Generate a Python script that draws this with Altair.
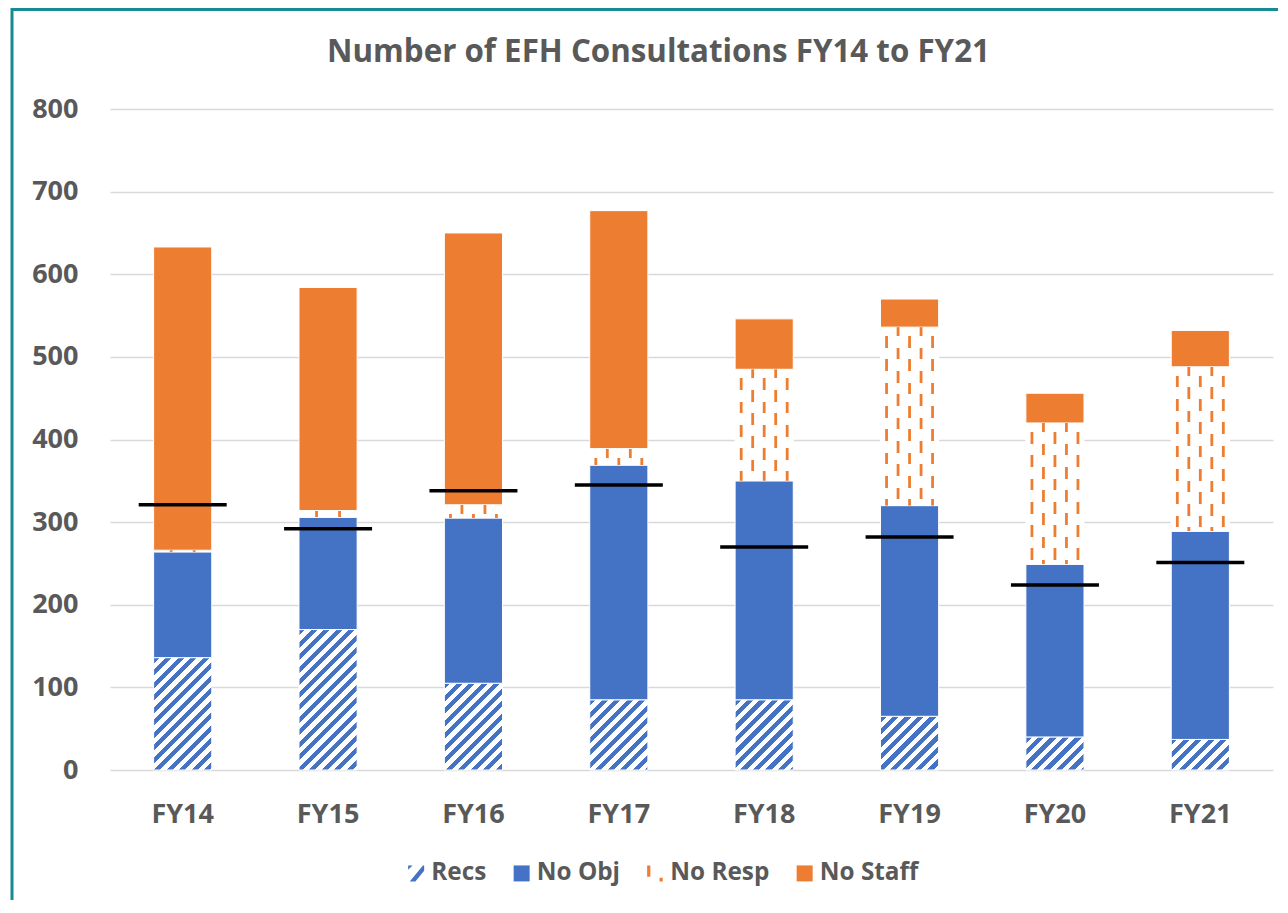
import altair as alt

# ---------------- data ----------------
years = ["FY14", "FY15", "FY16", "FY17", "FY18", "FY19", "FY20", "FY21"]
categories = ["Recs", "No Obj", "No Resp", "No Staff"]
recs = [136, 170, 105, 85, 85, 65, 40, 37]
no_obj = [128, 136, 200, 284, 265, 255, 209, 252]
no_resp = [2, 8, 16, 20, 135, 216, 171, 199]
no_staff = [367, 270, 329, 288, 61, 34, 36, 44]
black_line = [321, 292, 338, 345, 270, 282, 224, 251]
y_ticks = [0, 100, 200, 300, 400, 500, 600, 700, 800]

# ---------------- style ----------------
FONT = "Open Sans"
BLUE = "#4472C4"
ORANGE = "#ED7D31"
GRAY = "#595959"
GRID = "#D9D9D9"
TEAL = "#178A94"
CLEAR = "rgba(237,125,49,0)"

W, H, YMAX = 1163, 661, 800
PX = H / YMAX
STEP = W / 8
BARW = STEP * 0.4


def diag_grad(h, period=12.5, frac=0.5):
    """Diagonal hatch (///) as a hard-stop linear gradient in bbox units."""
    w = BARW
    h = max(h, 1.0)
    k = (w + h) / (w * w + h * h)
    n = (w + h) / period
    stops = []
    i = 0
    while i < n:
        a = min(i / n, 1)
        b = min((i + frac) / n, 1)
        c = min((i + 1) / n, 1)
        stops += [
            {"offset": a, "color": BLUE},
            {"offset": b, "color": BLUE},
            {"offset": b, "color": "#ffffff"},
            {"offset": c, "color": "#ffffff"},
        ]
        i += 1
    return {"gradient": "linear", "x1": 0, "y1": 0, "x2": k * w, "y2": k * h,
            "stops": stops}


def dash_grad(h, start, period=23.3, dash=11.7):
    """Vertical dashes as a hard-stop vertical gradient."""
    h = max(h, 0.5)
    stops = [{"offset": 0, "color": CLEAR}]
    s = start
    while s < h:
        a, b = max(s, 0), min(s + dash, h)
        if b > a:
            stops += [
                {"offset": a / h, "color": CLEAR},
                {"offset": a / h, "color": ORANGE},
                {"offset": b / h, "color": ORANGE},
                {"offset": b / h, "color": CLEAR},
            ]
        s += period
    stops.append({"offset": 1, "color": CLEAR})
    return {"gradient": "linear", "x1": 0, "y1": 0, "x2": 0, "y2": 1,
            "stops": stops}


rows = []
for i, yr in enumerate(years):
    lo = 0
    for cat, vals in zip(categories, [recs, no_obj, no_resp, no_staff]):
        v = vals[i]
        hi = lo + v
        hpx = v * PX
        if cat == "Recs":
            fill = diag_grad(hpx)
        elif cat == "No Obj":
            fill = BLUE
        elif cat == "No Resp":
            fill = "#ffffff"
        else:
            fill = ORANGE
        row = {"year": yr, "cat": cat, "lo": lo, "hi": hi, "fill": fill}
        if cat == "No Resp":
            row["dA"] = dash_grad(hpx, -2.7)
            row["dB"] = dash_grad(hpx, 9.0)
        rows.append(row)
        lo = hi

line_rows = [{"year": y, "v": v} for y, v in zip(years, black_line)]
legend_rows = [{"cat": c} for c in categories]

# ---------------- encodings ----------------
x_enc = alt.X(
    "year:N", sort=years,
    scale=alt.Scale(paddingInner=0.6, paddingOuter=0.3),
    axis=alt.Axis(title=None, labelAngle=0, labelFont=FONT, labelFontSize=27,
                  labelFontWeight="bold", labelColor=GRAY, labelPadding=31,
                  ticks=False, domain=False, grid=False),
)
y_scale = alt.Scale(domain=[0, YMAX], nice=False)
y_axis = alt.Axis(title=None, values=y_ticks, grid=True, gridColor=GRID,
                  gridWidth=1.5, domain=False, ticks=False, labelFont=FONT,
                  labelFontSize=27, labelFontWeight="bold", labelColor=GRAY,
                  labelPadding=32)

base = alt.Chart(alt.Data(values=rows))

bars = base.mark_bar(stroke="white", strokeWidth=1).encode(
    x=x_enc,
    y=alt.Y("lo:Q", scale=y_scale, axis=y_axis),
    y2="hi:Q",
    fill=alt.Fill("fill:N", scale=None),
)

dash_layers = []
for off, ph in zip([-23, -11.5, 0, 11.5, 23], ["dB", "dA", "dB", "dA", "dB"]):
    dash_layers.append(
        base.transform_filter(alt.datum.cat == "No Resp")
        .mark_bar(width=2.8, xOffset=off)
        .encode(x=x_enc, y=alt.Y("lo:Q", scale=y_scale, axis=y_axis),
                y2="hi:Q", fill=alt.Fill(f"{ph}:N", scale=None))
    )

lines = alt.Chart(alt.Data(values=line_rows)).mark_tick(
    color="#000000", size=88, thickness=3.5, opacity=1
).encode(x=x_enc, y=alt.Y("v:Q", scale=y_scale, axis=y_axis))

P_SQ = "M -1 -1 L 1 -1 L 1 1 L -1 1 Z"
P_RECS = ("M -1 -1 L -0.45 -1 L -1 -0.45 Z "
          "M -0.8 1 L 0.85 -1 L 1 -1 L 1 -0.35 L -0.1 1 Z")
P_RESP = ("M -1 -1 L -0.6 -1 L -0.6 0.4 L -1 0.4 Z "
          "M 0.55 0.55 L 0.95 0.55 L 0.95 1 L 0.55 1 Z")

legend_kw = dict(
    title=None, orient="none", legendX=294, legendY=752,
    direction="horizontal", labelFont=FONT, labelFontSize=24.3,
    labelFontWeight="bold", labelColor=GRAY, symbolSize=256,
    symbolOpacity=1, symbolStrokeWidth=0, columnPadding=22.5, labelOffset=3,
    padding=0,
)

legend_layer = alt.Chart(alt.Data(values=legend_rows)).mark_point(
    filled=True, opacity=0
).encode(
    color=alt.Color("cat:N", scale=alt.Scale(domain=categories,
                                             range=[BLUE, BLUE, ORANGE, ORANGE]),
                    legend=alt.Legend(**legend_kw)),
    shape=alt.Shape("cat:N", scale=alt.Scale(domain=categories,
                                             range=[P_RECS, P_SQ, P_RESP, P_SQ]),
                    legend=alt.Legend(**legend_kw)),
)

frame_data = alt.Data(values=[{"k": 0}])
left_border = alt.Chart(frame_data).mark_rule(color=TEAL, strokeWidth=3).encode(
    x=alt.value(-98), y=alt.value(-101), y2=alt.value(H + 130))
top_border = alt.Chart(frame_data).mark_rule(color=TEAL, strokeWidth=3).encode(
    x=alt.value(-98), x2=alt.value(W + 5), y=alt.value(-99.5))

chart = alt.layer(
    bars, *dash_layers, lines, legend_layer, left_border, top_border
).properties(
    width=W, height=H, background="white",
    title=alt.TitleParams(
        text="Number of EFH Consultations FY14 to FY21",
        font=FONT, fontSize=31.3, fontWeight="bold", color=GRAY,
        anchor="middle", frame="group", dx=-33, baseline="alphabetic",
        offset=-87,
    ),
    autosize=alt.AutoSizeParams(type="none"),
    padding={"left": 102, "top": 101, "right": 5, "bottom": 130},
).configure_view(stroke="transparent", strokeWidth=0)

chart.save("out.html", embed_options={"renderer": "svg", "actions": False})
